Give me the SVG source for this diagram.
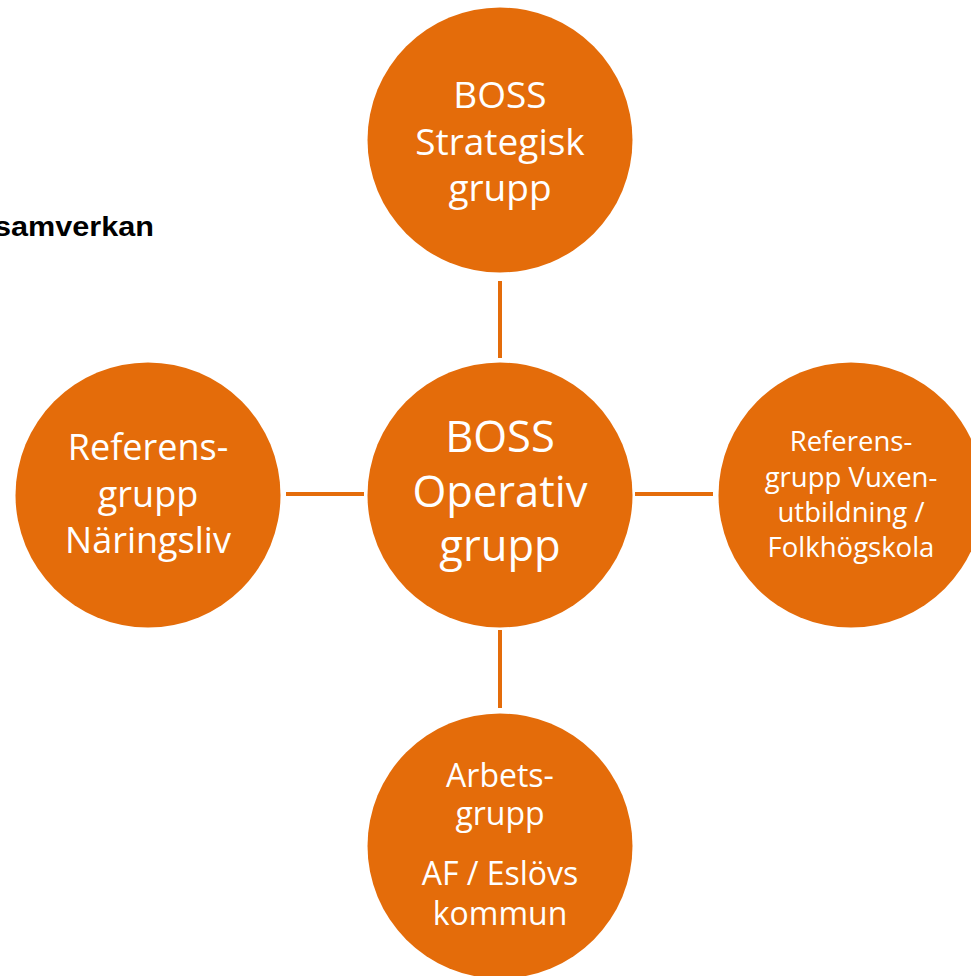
<svg xmlns="http://www.w3.org/2000/svg" width="971" height="976" viewBox="0 0 971 976">
<style>
.node{fill:#E46C0A;}
.lbl{fill:#FFFFFF;font-family:"Open Sans","Noto Sans",sans-serif;text-anchor:middle;}
.conn{stroke:#E46C0A;stroke-width:4;fill:none;}
.title{fill:#000000;font-family:"Liberation Sans",Arial,sans-serif;font-weight:bold;}
</style>
<rect width="971" height="976" fill="#FFFFFF"/>
<text class="title" x="-6" y="236" font-size="27" textLength="160" lengthAdjust="spacingAndGlyphs">samverkan</text>
<g id="connectors">
<line class="conn" x1="500" y1="281" x2="500" y2="358"/>
<line class="conn" x1="500" y1="630" x2="500" y2="708"/>
<line class="conn" x1="286" y1="494" x2="364" y2="494"/>
<line class="conn" x1="635" y1="494" x2="713" y2="494"/>
</g>
<g id="strategisk">
<circle class="node" cx="500" cy="140" r="132.5"/>
<text class="lbl" font-size="37" x="500"><tspan x="500" y="108">BOSS</tspan><tspan x="500" y="155">Strategisk</tspan><tspan x="500" y="201">grupp</tspan></text>
</g>
<g id="operativ">
<circle class="node" cx="500" cy="495" r="132.5"/>
<text class="lbl" font-size="43.5" x="500"><tspan x="500" y="452">BOSS</tspan><tspan x="500" y="507">Operativ</tspan><tspan x="500" y="561">grupp</tspan></text>
</g>
<g id="naringsliv">
<circle class="node" cx="148" cy="495" r="132.5"/>
<text class="lbl" font-size="36" x="148"><tspan x="148" y="460">Referens-</tspan><tspan x="148" y="506.5">grupp</tspan><tspan x="148" y="553">Näringsliv</tspan></text>
</g>
<g id="vuxenutbildning">
<circle class="node" cx="851" cy="495" r="132.5"/>
<text class="lbl" font-size="27.5" x="851"><tspan x="851" y="451">Referens-</tspan><tspan x="851" y="486.5">grupp Vuxen-</tspan><tspan x="851" y="521.5">utbildning /</tspan><tspan x="851" y="556.5">Folkhögskola</tspan></text>
</g>
<g id="arbetsgrupp">
<circle class="node" cx="500" cy="846" r="132.5"/>
<text class="lbl" font-size="32" x="500"><tspan x="500" y="787">Arbets-</tspan><tspan x="500" y="825">grupp</tspan><tspan x="500" y="885">AF / Eslövs</tspan><tspan x="500" y="925">kommun</tspan></text>
</g>
</svg>
